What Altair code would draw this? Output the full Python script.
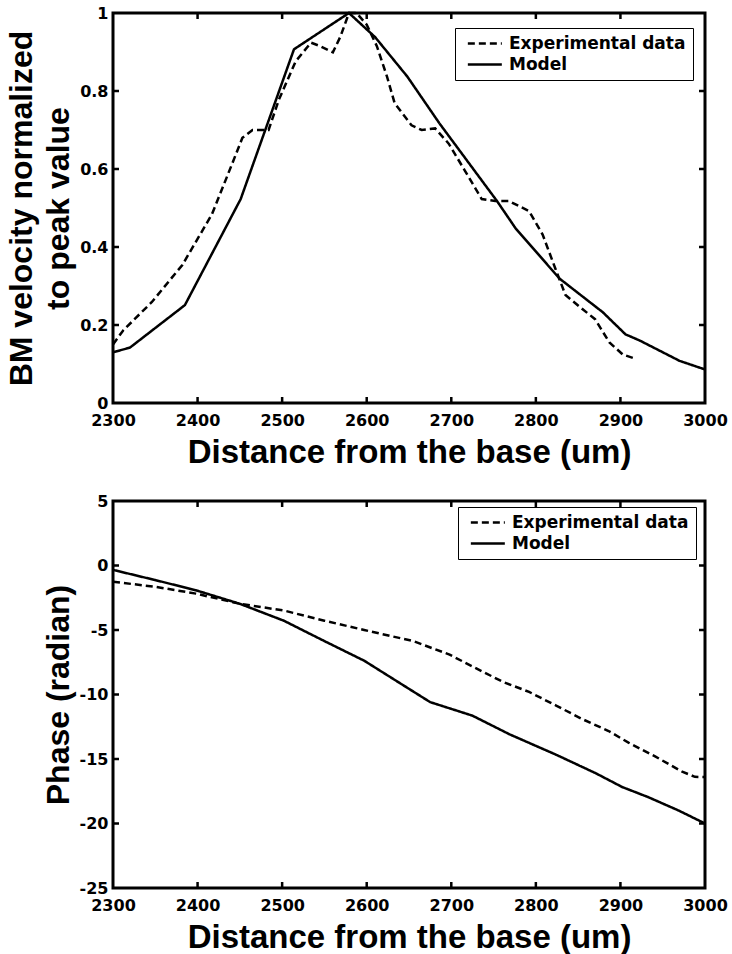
import altair as alt
import pandas as pd

# Basilar-membrane velocity, normalized to its peak, along the cochlea
vel_exp_x = [2300, 2312, 2346, 2382, 2417, 2441, 2453, 2465, 2484, 2496, 2516, 2534,
             2545, 2560, 2569, 2579, 2588, 2600, 2612, 2624, 2633, 2653, 2665, 2681,
             2697, 2716, 2736, 2752, 2768, 2792, 2808, 2823, 2835, 2855, 2870, 2887,
             2903, 2917]
vel_exp_y = [0.15, 0.186, 0.259, 0.354, 0.484, 0.614, 0.68, 0.70, 0.70, 0.777, 0.876, 0.924,
             0.915, 0.899, 0.94, 1.0, 1.0, 0.97, 0.915, 0.837, 0.769, 0.712, 0.70, 0.704,
             0.665, 0.596, 0.523, 0.518, 0.518, 0.492, 0.432, 0.345, 0.277, 0.241, 0.215, 0.155,
             0.124, 0.114]
vel_model_x = [2300, 2320, 2385, 2451, 2514, 2579, 2610, 2648, 2686, 2754, 2776, 2828,
               2879, 2906, 2923, 2970, 3000]
vel_model_y = [0.13, 0.142, 0.251, 0.523, 0.907, 1.0, 0.938, 0.837, 0.717, 0.518, 0.448, 0.319,
               0.233, 0.176, 0.16, 0.108, 0.086]

# Phase (radian) along the cochlea
phase_exp_x = [2300, 2350, 2398, 2450, 2502, 2550, 2597, 2655, 2698, 2729, 2761, 2792,
               2824, 2855, 2886, 2910, 2941, 2973, 2988, 3000]
phase_exp_y = [-1.26, -1.65, -2.18, -2.97, -3.49, -4.28, -5.0, -5.86, -6.91, -7.96, -9.02, -9.80,
               -10.86, -11.91, -12.83, -13.75, -14.80, -15.98, -16.38, -16.4]
phase_model_x = [2300, 2350, 2398, 2450, 2502, 2550, 2597, 2675, 2725, 2769, 2824, 2871,
                 2902, 2933, 2969, 3000]
phase_model_y = [-0.34, -1.13, -1.92, -2.97, -4.28, -5.86, -7.38, -10.59, -11.64, -13.09, -14.67, -16.11,
                 -17.17, -17.96, -19.0, -20.0]

SERIES = ["Experimental data", "Model"]
TICK = "tick"
x_domain = [2300, 3000]
x_ticks = [2400, 2500, 2600, 2700, 2800, 2900]
x_labels = [2300, 2400, 2500, 2600, 2700, 2800, 2900, 3000]
vel_domain = [0, 1]
vel_ticks = [0.2, 0.4, 0.6, 0.8]
vel_labels = [0, 0.2, 0.4, 0.6, 0.8, 1]
phase_domain = [-25, 5]
phase_ticks = [0, -5, -10, -15, -20]
phase_labels = [5, 0, -5, -10, -15, -20, -25]

W = 592
TICK_PX = 6  # tick length in pixels, converted to data units per panel


def frame(xe, ye, xm, ym, y_domain, y_ticks, height):
    exp = pd.DataFrame({"dist": xe, "val": ye, "series": SERIES[0], "seg": SERIES[0]})
    mod = pd.DataFrame({"dist": xm, "val": ym, "series": SERIES[1], "seg": SERIES[1]})
    # two-point segments for inward ticks on the four sides of the box
    x0, x1 = x_domain
    y0, y1 = y_domain
    dx = (x1 - x0) * TICK_PX / W
    dy = (y1 - y0) * TICK_PX / height
    rows = []
    segs = []
    for t in x_ticks:
        segs.append([(t, y0), (t, y0 + dy)])
        segs.append([(t, y1), (t, y1 - dy)])
    for t in y_ticks:
        segs.append([(x0, t), (x0 + dx, t)])
        segs.append([(x1 - dx, t), (x1, t)])
    for i, seg in enumerate(segs):
        for px, py in seg:
            rows.append({"dist": px, "val": py, "series": TICK, "seg": f"{TICK}{i}"})
    return pd.concat([exp, mod, pd.DataFrame(rows)], ignore_index=True)


def panel(df, y_domain, y_labels, y_label_expr, y_title, height, legend_xy):
    xs = alt.Scale(domain=x_domain, nice=False, zero=False)
    ys = alt.Scale(domain=y_domain, nice=False, zero=False)
    x_axis = alt.Axis(orient="bottom", values=x_labels, format="d",
                      title="Distance from the base (um)", ticks=False, tickSize=0,
                      domain=False, labelPadding=9, labelFlush=False, labelOverlap=False,
                      titleFontSize=33, titlePadding=8)
    y_axis = alt.Axis(orient="left", values=y_labels, labelExpr=y_label_expr, title=y_title,
                      ticks=False, tickSize=0, domain=False, labelPadding=5,
                      labelFlush=False, labelOverlap=False, titleFontSize=32,
                      titlePadding=4, titleLineHeight=37)

    return alt.Chart(df).mark_line(color="black", strokeWidth=2.5).encode(
        x=alt.X("dist:Q", scale=xs, axis=x_axis),
        y=alt.Y("val:Q", scale=ys, axis=y_axis),
        detail="seg:N",
        strokeDash=alt.StrokeDash(
            "series:N",
            scale=alt.Scale(domain=SERIES + [TICK], range=[[7, 4], [1, 0], [1, 0]]),
            legend=alt.Legend(values=SERIES, title=None, orient="none",
                              legendX=legend_xy[0], legendY=legend_xy[1],
                              symbolType="M-0.47,0H5.53", symbolSize=128.4, symbolStrokeWidth=2.5,
                              symbolStrokeColor="black", labelOffset=30, padding=7, rowPadding=3,
                              strokeColor="black", fillColor="white", labelFont="DejaVu Sans",
                              labelFontWeight="bold", labelFontSize=17, labelColor="black",
                              labelLimit=400)),
    ).properties(width=W, height=height)


top = panel(frame(vel_exp_x, vel_exp_y, vel_model_x, vel_model_y, vel_domain, vel_ticks, 390),
            vel_domain, vel_labels, "format(datum.value, '.1~f')",
            ["BM velocity normalized", "to peak value"], 390, (342, 15))
bottom = panel(frame(phase_exp_x, phase_exp_y, phase_model_x, phase_model_y,
                     phase_domain, phase_ticks, 387),
               phase_domain, phase_labels, "'' + datum.value", "Phase (radian)", 387, (345, 6))

chart = (
    alt.vconcat(top, bottom, spacing=20)
    .resolve_scale(strokeDash="independent")
    .resolve_legend(strokeDash="independent")
    .properties(padding={"left": 4, "top": 3, "right": 0, "bottom": 0}, background="white")
    .configure_view(stroke="black", strokeWidth=3)
    .configure_axis(labelFont="DejaVu Sans", labelFontWeight="bold", labelFontSize=16,
                    labelColor="black", titleFont="Liberation Sans", titleFontWeight="bold",
                    titleColor="black", grid=False)
)

chart.save("out.html", embed_options={"renderer": "svg", "actions": False})
